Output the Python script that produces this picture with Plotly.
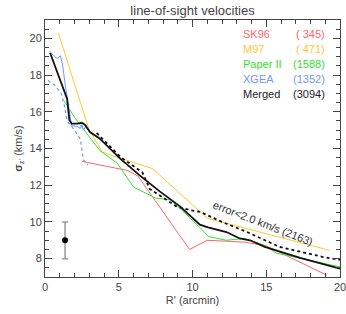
import plotly.graph_objects as go

# ---- data ----
sk96_x = [2.5, 5.6, 6.3, 9.8, 11.0, 13.5, 15.0, 19.1]
sk96_y = [13.3, 12.8, 12.5, 8.5, 9.0, 8.9, 8.7, 7.1]

m97_x = [0.9, 3.0, 3.9, 4.6, 7.3, 11.0, 19.3]
m97_y = [20.3, 15.0, 13.8, 13.6, 12.9, 10.2, 8.45]

paper2_x = [1.3, 2.0, 3.7, 4.9, 6.0, 6.5, 7.5, 8.5, 9.2, 10.5, 11.1, 12.3, 13.5, 14.8, 15.7, 20.0]
paper2_y = [16.6, 15.7, 13.9, 13.2, 11.9, 11.7, 11.3, 11.2, 10.7, 9.7, 9.2, 9.0, 9.1, 8.75, 8.3, 7.55]

xgea_x = [0.3, 0.8, 1.05, 1.2, 1.4, 1.57, 1.8, 2.2, 2.4, 2.5, 2.6, 2.85]
xgea_y = [19.3, 18.9, 19.05, 18.5, 17.3, 16.5, 15.25, 15.2, 15.1, 15.3, 15.0, 15.3]

xgea_dot_x = [0.2, 0.6, 1.1, 1.3, 1.5, 2.0, 2.4, 2.6, 2.9]
xgea_dot_y = [17.7, 17.5, 17.0, 16.4, 15.5, 15.0, 14.5, 13.4, 13.1]

merged_x = [0.35, 1.5, 1.65, 1.8, 2.2, 2.5, 2.7, 3.05, 3.7, 5.1, 6.4, 7.8, 9.15, 10.5, 11.05, 12.3, 13.2, 13.9, 14.9, 17.3, 20.0]
merged_y = [19.2, 16.7, 15.55, 15.35, 15.35, 15.4, 15.3, 14.9, 14.55, 13.45, 12.55, 11.65, 10.85, 9.85, 9.7, 9.45, 9.1, 9.0, 8.64, 8.04, 7.45]

err_x = [3.5, 4.2, 5.1, 6.6, 7.1, 8.9, 9.8, 10.5, 11.2, 12.0, 13.7, 15.9, 18.8, 20.0]
err_y = [14.85, 14.3, 13.55, 12.7, 11.8, 10.85, 10.65, 10.55, 10.3, 10.0, 9.45, 8.64, 8.1, 7.93]

errbar_x = [1.36]
errbar_y = [9.0]
errbar_size = [1.0]

legend_names = ["SK96", "M97", "Paper II", "XGEA", "Merged"]
legend_counts = ["( 345)", "( 471)", "(1588)", "(1352)", "(3094)"]
colors = ["#ff6666", "#ffc833", "#33e033", "#6f96ff", "#222222"]

FONT = "Liberation Sans, Arial, sans-serif"

fig = go.Figure()
fig.add_trace(go.Scatter(x=sk96_x, y=sk96_y, mode="lines", line=dict(color=colors[0], width=1)))
fig.add_trace(go.Scatter(x=m97_x, y=m97_y, mode="lines", line=dict(color=colors[1], width=1)))
fig.add_trace(go.Scatter(x=paper2_x, y=paper2_y, mode="lines", line=dict(color=colors[2], width=1)))
fig.add_trace(go.Scatter(x=xgea_x, y=xgea_y, mode="lines", line=dict(color=colors[3], width=1)))
fig.add_trace(go.Scatter(x=xgea_dot_x, y=xgea_dot_y, mode="lines", line=dict(color=colors[3], width=1.2, dash="dot")))
fig.add_trace(go.Scatter(x=err_x, y=err_y, mode="lines", line=dict(color="#111111", width=1.8, dash="dot")))
fig.add_trace(go.Scatter(x=merged_x, y=merged_y, mode="lines", line=dict(color="#111111", width=1.8)))
fig.add_trace(go.Scatter(x=errbar_x, y=errbar_y, mode="markers",
                         marker=dict(color="black", size=6),
                         error_y=dict(type="data", array=errbar_size, color="#999999", thickness=1.5, width=3)))

# legend as text
for i, (n, c) in enumerate(zip(legend_names, legend_counts)):
    yy = 1 - (14 + 15 * i) / 257
    fig.add_annotation(x=(241 - 45) / 295, y=yy, xref="paper", yref="paper", text=n,
                       showarrow=False, xanchor="left", yanchor="middle",
                       font=dict(color=colors[i], size=11, family=FONT))
    fig.add_annotation(x=(327 - 45) / 295, y=yy, xref="paper", yref="paper", text=c,
                       showarrow=False, xanchor="right", yanchor="middle",
                       font=dict(color=colors[i], size=11, family=FONT))

fig.add_annotation(x=14.75, y=9.95, text="error<2.0 km/s (2163)", showarrow=False,
                   textangle=21, font=dict(color="#333333", size=11, family=FONT))

fig.update_layout(
    width=346, height=314,
    margin=dict(l=45, r=6, t=20, b=37, autoexpand=False),
    paper_bgcolor="white", plot_bgcolor="white",
    showlegend=False,
    font=dict(family=FONT, size=11, color="#444444"),
    title=dict(text="line-of-sight velocities", x=0.5, xref="paper", y=1 - 10 / 314,
               yanchor="middle", xanchor="center",
               font=dict(size=13, color="#444444", family=FONT)),
)
fig.update_xaxes(range=[0, 20], showgrid=False, zeroline=False, showline=True, automargin=False,
                 linecolor="#444444", linewidth=1, mirror="ticks", ticklabeloverflow="allow",
                 ticks="inside", ticklen=7, tickcolor="#444444", dtick=5, tick0=0,
                 minor=dict(ticks="inside", ticklen=4, dtick=1, tickcolor="#444444"),
                 title=dict(text="R' (arcmin)", standoff=4, font=dict(size=11, color="#444444")),
                 tickfont=dict(size=11, color="#444444"))
fig.update_yaxes(range=[7, 21], showgrid=False, zeroline=False, showline=True, automargin=False,
                 linecolor="#444444", linewidth=1, mirror="ticks", ticklabeloverflow="allow",
                 ticks="inside", ticklen=7, tickcolor="#444444", dtick=2, tick0=0,
                 minor=dict(ticks="inside", ticklen=4, dtick=0.5, tickcolor="#444444"),
                 title=dict(text="<b>σ</b><sub>z'</sub> (km/s)", standoff=4, font=dict(size=11, color="#444444")),
                 tickfont=dict(size=11, color="#444444"))

fig.write_html("out.html", config={"displayModeBar": False},
               post_script="document.body.style.margin='0';document.body.style.padding='0';document.body.style.overflow='hidden';")
